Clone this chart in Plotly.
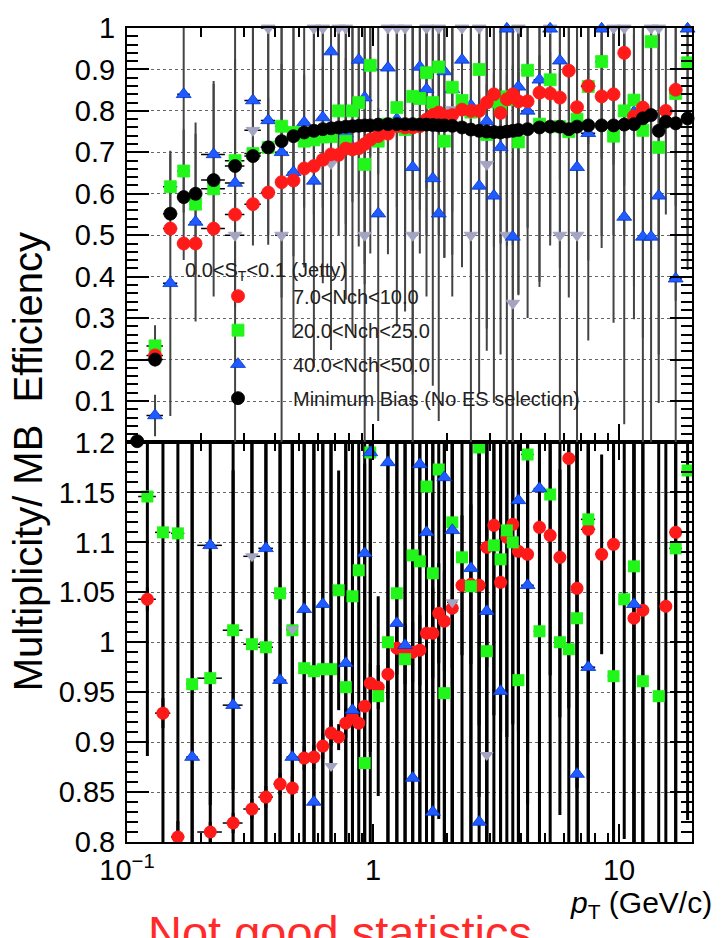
import numpy as np
import plotly.graph_objects as go

# ---------------- data ----------------
PT_EDGES = [0.10, 0.12, 0.14, 0.16, 0.18, 0.20, 0.25, 0.30, 0.35, 0.40, 0.45, 0.50, 0.55, 0.60,
            0.65, 0.70, 0.75, 0.80, 0.85, 0.90, 0.95, 1.0, 1.1, 1.2, 1.3, 1.4, 1.5, 1.6, 1.7, 1.8,
            1.9, 2.0, 2.2, 2.4, 2.6, 2.8, 3.0, 3.2, 3.4, 3.6, 3.8, 4.0, 4.5, 5.0, 5.5, 6.0, 6.5,
            7.0, 8, 9, 10, 11, 12, 13, 14, 15, 16, 18, 20]

# efficiency (top panel), one value per pT bin (58 bins)
MB_EFF = [0.003, 0.20, 0.552, 0.592, 0.600, 0.633, 0.667, 0.691, 0.712, 0.727,
          0.739, 0.748, 0.752, 0.756, 0.758, 0.760, 0.762, 0.763, 0.764, 0.765,
          0.765, 0.767, 0.768, 0.768, 0.768, 0.768, 0.767, 0.767, 0.766, 0.765,
          0.765, 0.764, 0.760, 0.755, 0.752, 0.750, 0.749, 0.748, 0.750, 0.752,
          0.754, 0.756, 0.760, 0.762, 0.762, 0.756, 0.762, 0.765, 0.765, 0.765,
          0.767, 0.768, 0.782, 0.790, 0.752, 0.774, 0.770, 0.782]
MB_ERR = [0.0, 0.004, 0.004, 0.004, 0.003, 0.003, 0.003, 0.003, 0.003, 0.003,
          0.003, 0.003, 0.003, 0.003, 0.003, 0.003, 0.003, 0.003, 0.003, 0.003,
          0.003, 0.003, 0.003, 0.003, 0.003, 0.003, 0.003, 0.003, 0.003, 0.003,
          0.003, 0.003, 0.003, 0.003, 0.003, 0.003, 0.003, 0.003, 0.003, 0.003,
          0.004, 0.004, 0.004, 0.004, 0.004, 0.005, 0.005, 0.005, 0.005, 0.006,
          0.006, 0.007, 0.007, 0.008, 0.008, 0.009, 0.009, 0.010]

NCH7_EFF = [None, 0.21, 0.516, 0.48, 0.48, 0.516, 0.55, 0.575, 0.603, 0.628,
            0.632, 0.661, 0.667, 0.682, 0.695, 0.694, 0.709, 0.707, 0.71, 0.72,
            0.731, 0.739, 0.745, 0.763, 0.76, 0.76, 0.763, 0.779, 0.79, 0.796,
            0.788, 0.79, 0.803, 0.80, 0.80, 0.82, 0.84, 0.795, 0.828, 0.84,
            0.823, 0.823, 0.844, 0.842, 0.832, 0.897, 0.809, 0.86, 0.835, 0.84,
            0.94, 0.787, 0.808, None, None, 0.80, 0.851, None]
NCH7_ERR = [0, 0.012, 0.010, 0.010, 0.010, 0.008, 0.008, 0.007, 0.007, 0.007,
            0.007, 0.007, 0.007, 0.008, 0.008, 0.008, 0.009, 0.009, 0.010, 0.010,
            0.011, 0.012, 0.013, 0.014, 0.015, 0.016, 0.018, 0.020, 0.022, 0.024,
            0.026, 0.028, 0.03, 0.035, 0.04, 0.045, 0.05, 0.06, 0.06, 0.07,
            0.07, 0.08, 0.09, 0.10, 0.10, 0.12, 0.13, 0.14, 0.15, 0.17,
            0.20, 0.20, 0.22, 0, 0, 0.25, 0.28, 0]

NCH20_EFF = [None, 0.233, 0.617, 0.655, 0.575, 0.612, 0.68, 0.697, 0.712, 0.763,
             0.748, 0.727, 0.73, 0.737, 0.738, 0.80, 0.727, 0.80, 0.82, 0.671,
             0.91, 0.727, 0.768, 0.808, 0.755, 0.835, 0.83, 0.892, 0.82, 0.906,
             0.727, 0.857, 0.825, 0.797, 0.90, 0.743, 0.822, 0.81, 0.834, 0.827,
             0.725, 0.898, 0.768, 0.875, 0.762, 0.75, 0.78, 0.859, 0.919, 0.739,
             0.80, 0.826, 0.753, 0.967, 0.712, None, 0.842, 0.916]
NCH20_ERR = [0, 0.05, 0.08, 0.10, 0.17, 0.26, 0.12, 0.14, 0.12, 0.15,
             0.15, 0.16, 0.18, 0.17, 0.18, 0.20, 0.20, 0.22, 0.22, 0.24,
             0.22, 0.08, 0.25, 0.24, 0.26, 0.25, 0.27, 0.28, 0.27, 0.30,
             0.28, 0.30, 0.30, 0.32, 0.30, 0.33, 0.35, 0.33, 0.36, 0.35,
             0.37, 0.38, 0.38, 0.40, 0.13, 0.40, 0.42, 0.42, 0.45, 0.45,
             0.18, 0.45, 0.50, 0.50, 0.50, 0, 0.50, 0.50]

NCH40_EFF = [None, 0.065, 0.384, 0.84, 0.532, 0.695, 0.626, 0.825, 0.777, 0.70,
             0.652, 0.772, 0.631, 0.784, 0.943, None, 0.745, 0.712, 0.923, 0.832,
             0.906, 0.552, 0.904, 0.78, 0.766, 0.664, 0.906, 0.852, 0.637, 0.552,
             0.895, 0.852, 0.923, 0.813, 0.619, 0.775, 0.595, 0.712, 0.998, 0.496,
             0.858, 0.80, 0.875, 0.998, 0.921, None, 0.664, 0.746, 0.998, None,
             0.544, 0.797, 0.496, 0.496, 0.595, None, 0.395, 0.998]
NCH40_ERR = [0, 0.05, 0.32, 0.40, 0.24, 0.17, 0.30, 0.35, 0.30, 0.35,
             0.40, 0.35, 0.45, 0.40, 0.45, 0, 0.40, 0.45, 0.45, 0.45,
             0.45, 0.50, 0.45, 0.50, 0.45, 0.50, 0.45, 0.50, 0.50, 0.50,
             0.45, 0.50, 0.50, 0.50, 0.50, 0.50, 0.50, 0.50, 0.50, 0.50,
             0.50, 0.50, 0.50, 0.50, 0.50, 0, 0.50, 0.50, 0.50, 0,
             0.50, 0.50, 0.50, 0.50, 0.50, 0, 0.40, 0.50]

# extra class drawn with grey down-triangles (not in legend)
GREY_EFF = [None, None, None, None, None, None, 0.5, 0.753, 1.0, 0.5,
            0.749, None, 1.0, 1.0, 0.673, 1.0, 1.0, None, None, 0.5,
            None, None, 1.0, 1.0, 1.0, 0.5, None, 1.0, None, 1.0,
            None, 0.803, 1.0, 0.5, 1.0, 0.671, None, None, 0.5, 0.336,
            1.0, None, None, 1.0, 0.5, None, 0.5, None, None, 1.0,
            1.0, None, None, 1.0, 1.0, None, None, None]
GREY_ERR = [0, 0, 0, 0, 0, 0, 0.5, 0.25, 0.5, 0.5,
            0.30, 0, 0.5, 0.5, 0.45, 0.5, 0.5, 0, 0, 0.5,
            0, 0, 0.5, 0.5, 0.5, 0.5, 0, 0.5, 0, 0.5,
            0, 0.35, 0.5, 0.5, 0.5, 0.45, 0, 0, 0.5, 0.35,
            0.5, 0, 0, 0.5, 0.5, 0, 0.5, 0, 0, 0.5,
            0.5, 0, 0, 0.5, 0.5, 0, 0, 0]

# ratio to MB (bottom panel), bins 2..58
RATIO_PT = [0.121, 0.140, 0.161, 0.184, 0.218, 0.270, 0.322, 0.367, 0.419, 0.470,
            0.525, 0.575, 0.625, 0.675, 0.725, 0.775, 0.825, 0.875, 0.925, 0.975,
            1.05, 1.15, 1.25, 1.35, 1.45, 1.55, 1.65, 1.75, 1.85, 1.95,
            2.1, 2.3, 2.5, 2.7, 2.9, 3.1, 3.3, 3.5, 3.7, 3.9,
            4.25, 4.75, 5.25, 5.75, 6.25, 6.75, 7.5, 8.5, 9.5, 10.5,
            11.5, 12.5, 13.5, 14.5, 15.5, 17.0, 19.0]

NCH7_RATIO = [1.043, 0.929, 0.805, None, 0.81, 0.819, 0.833, 0.845, 0.858, 0.854,
              0.884, 0.885, 0.896, 0.909, 0.905, 0.919, 0.925, 0.919, 0.936, 0.959,
              0.955, 0.968, 0.994, 0.988, 0.990, 0.992, 1.009, 1.009, 1.029, 1.021,
              1.034, 1.057, 1.058, 1.057, 1.095, 1.117, 1.060, 1.105, 1.118, 1.091,
              1.088, 1.115, 1.107, 1.085, 1.184, 1.054, 1.113, 1.088, 1.098, None,
              1.024, 1.032, None, None, 1.036, 1.110, None]
NCH7_RATIO_ERR = [0.012, 0.015, 0.016, 0, 0.010, 0.010, 0.010, 0.011, 0.011, 0.012,
                  0.012, 0.012, 0.013, 0.013, 0.013, 0.015, 0.016, 0.018, 0.018, 0.02,
                  0.022, 0.025, 0.026, 0.03, 0.03, 0.035, 0.04, 0.045, 0.05, 0.05,
                  0.06, 0.07, 0.08, 0.14, 0.12, 0.19, 0.15, 0.20, 0.20, 0.18,
                  0.20, 0.22, 0.14, 0.16, 0.25, 0.20, 0.25, 0.10, 0.30, 0,
                  0.30, 0.30, 0, 0, 0.35, 0.40, 0]

NCH20_RATIO = [1.146, 1.110, 1.109, 0.958, 0.964, 1.012, 0.998, 0.995, 1.049, 1.012,
               0.974, 0.971, 0.973, 0.973, 1.052, 0.955, 1.046, 1.072, 0.879, 1.190,
               0.946, 1.000, 1.049, 0.983, 1.087, 1.081, 1.156, 1.069, 1.173, 0.949,
               1.120, 1.085, 1.056, 1.195, 0.991, 1.097, 1.083, 1.112, 1.100, 0.962,
               1.188, 1.011, 1.148, 1.000, 0.993, 1.024, 1.123, None, 0.966, 1.043,
               1.076, 0.961, None, 0.946, None, 1.094, 1.172]
NCH20_RATIO_ERR = [0.26, 0.35, 0.35, 0.30, 0.127, 0.16, 0.35, 0.30, 0.30, 0.30,
                   0.30, 0.30, 0.30, 0.30, 0.12, 0.30, 0.30, 0.30, 0.30, 0.30,
                   0.10, 0.30, 0.35, 0.35, 0.35, 0.35, 0.35, 0.35, 0.35, 0.35,
                   0.35, 0.35, 0.35, 0.35, 0.35, 0.35, 0.35, 0.35, 0.35, 0.35,
                   0.35, 0.35, 0.35, 0.173, 0.35, 0.35, 0.35, 0, 0.35, 0.24,
                   0.35, 0.35, 0, 0.35, 0, 0.35, 0.35]

NCH40_RATIO = [None, None, None, 0.885, 1.097, 0.937, None, 1.094, 0.962, 0.885,
               1.033, 0.840, 1.038, None, None, 0.979, 0.932, None, 1.089, 1.190,
               None, 1.180, 1.019, 0.997, 0.864, 1.178, 1.110, 0.830, None, 1.165,
               1.112, None, 1.074, 0.820, 1.031, None, 0.951, None, None, 1.142,
               1.057, 1.154, None, None, None, 0.868, 0.975, None, None, None,
               1.038, None, None, None, None, None, None]

GREY_RATIO = [None, None, None, None, None, None, 1.086, None, None, 1.013,
              None, None, None, 0.876, None, None, None, None, None, None,
              None, None, None, None, None, None, None, None, None, None,
              1.040, None, None, None, 0.887, None, None, None, None, None,
              None, None, None, None, None, None, None, None, None, None,
              None, None, None, None, None, None, None]

# ---------------- geometry from the library ----------------
edges = np.array(PT_EDGES)
pt = (edges[1:] + edges[:-1]) / 2
pt_half = (edges[1:] - edges[:-1]) / 2
rpt = np.array(RATIO_PT)
rhalf = pt_half[1:]

RED = "#ff1a1a"
GREEN = "#22f51a"
BLUE = "#1f5bff"
GREY = "#a3a3c2"
BLACK = "#000000"
FONT = "Liberation Sans, Arial, sans-serif"

fig = go.Figure()


def err_trace(x, y, ey, ex, xa, ya, color, thick):
    fig.add_trace(go.Scatter(
        x=x, y=y, mode="markers", xaxis=xa, yaxis=ya, showlegend=False, hoverinfo="skip",
        marker=dict(size=1, color="rgba(0,0,0,0)"),
        error_y=dict(type="data", array=ey, symmetric=True, color=color, thickness=thick, width=0),
        error_x=dict(type="data", array=ex, symmetric=True, color="black", thickness=1.5, width=0),
        cliponaxis=True))


def mk_trace(x, y, xa, ya, color, symbol, size, name=None, rank=None, line=None):
    fig.add_trace(go.Scatter(
        x=x, y=y, mode="markers", xaxis=xa, yaxis=ya, name=name or "grey",
        showlegend=name is not None, legendrank=rank or 1000,
        legendgroup=name or "grey",
        marker=dict(color=color, symbol=symbol, size=size,
                    line=dict(width=0.8, color=line or color)),
        cliponaxis=False))


TOPC = "#444444"
# error bars first (behind all markers)
err_trace(pt, GREY_EFF, GREY_ERR, pt_half, "x2", "y2", TOPC, 2)
err_trace(pt, NCH40_EFF, NCH40_ERR, pt_half, "x2", "y2", TOPC, 2)
err_trace(pt, NCH20_EFF, NCH20_ERR, pt_half, "x2", "y2", TOPC, 2)
err_trace(pt, NCH7_EFF, NCH7_ERR, pt_half, "x2", "y2", TOPC, 2)
err_trace(pt, MB_EFF, MB_ERR, pt_half, "x2", "y2", TOPC, 2)

err_trace(rpt, GREY_RATIO, [0.6] * len(rpt), rhalf, "x", "y", "black", 3)
err_trace(rpt, NCH40_RATIO, [0.5] * len(rpt), rhalf, "x", "y", "black", 3)
err_trace(rpt, NCH20_RATIO, NCH20_RATIO_ERR, rhalf, "x", "y", "black", 3)
err_trace(rpt, NCH7_RATIO, NCH7_RATIO_ERR, rhalf, "x", "y", "black", 3)

# markers: top panel
mk_trace(pt, GREY_EFF, "x2", "y2", GREY, "triangle-down", 12)
mk_trace(pt, NCH40_EFF, "x2", "y2", BLUE, "triangle-up", 13, "40.0&lt;Nch&lt;50.0", 3, "#0033cc")
mk_trace(pt, NCH20_EFF, "x2", "y2", GREEN, "square", 12, "20.0&lt;Nch&lt;25.0", 2)
mk_trace(pt, NCH7_EFF, "x2", "y2", RED, "circle", 13, "7.0&lt;Nch&lt;10.0", 1)
mk_trace(pt, MB_EFF, "x2", "y2", BLACK, "circle", 13, "Minimum Bias (No ES selection)", 4)

# markers: bottom panel
fig.add_trace(go.Scatter(x=rpt, y=NCH7_RATIO, mode="markers", xaxis="x", yaxis="y", showlegend=False,
                         marker=dict(color=RED, symbol="circle", size=13), cliponaxis=True))
fig.add_trace(go.Scatter(x=rpt, y=NCH20_RATIO, mode="markers", xaxis="x", yaxis="y", showlegend=False,
                         marker=dict(color=GREEN, symbol="square", size=12), cliponaxis=True))
fig.add_trace(go.Scatter(x=rpt, y=NCH40_RATIO, mode="markers", xaxis="x", yaxis="y", showlegend=False,
                         marker=dict(color=BLUE, symbol="triangle-up", size=13,
                                     line=dict(width=0.8, color="#0033cc")), cliponaxis=True))
fig.add_trace(go.Scatter(x=rpt, y=GREY_RATIO, mode="markers", xaxis="x", yaxis="y", showlegend=False,
                         marker=dict(color=GREY, symbol="triangle-down", size=12), cliponaxis=True))

W, H = 721, 938
ML, MR, MT, MB = 127, 29, 23, 96
PW = W - ML - MR
ph = H - MT - MB
split = 402 / ph

xr = [-1.0, np.log10(19.8)]
minor_x = [0.2, 0.3, 0.4, 0.5, 0.6, 0.7, 0.8, 0.9, 2, 3, 4, 5, 6, 7, 8, 9, 20]
axis_common = dict(showline=True, linecolor="black", linewidth=2, mirror="ticks",
                   ticks="inside", tickcolor="black", tickwidth=2, zeroline=False)

fig.update_layout(
    width=W, height=H, margin=dict(l=ML, r=MR, t=MT, b=MB),
    paper_bgcolor="white", plot_bgcolor="white",
    font=dict(family=FONT, color="black"),
    xaxis=dict(type="log", range=xr, domain=[0, 1], anchor="y", showgrid=False,
               tickvals=[0.1, 1, 10], ticktext=["10<sup>\u22121</sup>", "1", "10"],
               ticklen=18, tickfont=dict(size=29), ticklabelstandoff=1,
               minor=dict(ticks="inside", ticklen=9, tickvals=minor_x, tickcolor="black",
                          tickwidth=1.5, showgrid=False),
               **axis_common),
    xaxis2=dict(type="log", range=xr, domain=[0, 1], anchor="y2", matches="x", showgrid=False,
                showticklabels=False, tickvals=[0.1, 1, 10], ticklen=18,
                minor=dict(ticks="inside", ticklen=9, tickvals=minor_x, tickcolor="black",
                           tickwidth=1.5, showgrid=False),
                **axis_common),
    yaxis=dict(domain=[0, split], range=[0.8, 1.2], anchor="x",
               tickvals=[0.8, 0.85, 0.9, 0.95, 1.0, 1.05, 1.1, 1.15, 1.2],
               ticktext=["0.8", "0.85", "0.9", "0.95", "1", "1.05", "1.1", "1.15", "1.2"],
               ticklen=22, tickfont=dict(size=29), ticklabelstandoff=4,
               showgrid=True, gridcolor="#666666", griddash="dot", gridwidth=1,
               minor=dict(ticks="inside", ticklen=11, dtick=0.01, tick0=0.8, tickcolor="black",
                          tickwidth=1.5, showgrid=False),
               **axis_common),
    yaxis2=dict(domain=[split, 1], range=[0, 1.0], anchor="x2",
                tickvals=[0.1, 0.2, 0.3, 0.4, 0.5, 0.6, 0.7, 0.8, 0.9, 1.0],
                ticktext=["0.1", "0.2", "0.3", "0.4", "0.5", "0.6", "0.7", "0.8", "0.9", "1"],
                ticklen=22, tickfont=dict(size=29), ticklabelstandoff=4,
                showgrid=True, gridcolor="#666666", griddash="dot", gridwidth=1,
                minor=dict(ticks="inside", ticklen=11, dtick=0.02, tick0=0, tickcolor="black",
                           tickwidth=1.5, showgrid=False),
                **axis_common),
    legend=dict(x=(183 - ML) / PW, y=(H - MB - 247) / ph, xanchor="left", yanchor="top",
                bgcolor="rgba(0,0,0,0)", borderwidth=0,
                font=dict(size=20, color="#222222", family=FONT),
                title=dict(text="0.0&lt;S<sub>T</sub>&lt;0.1 (Jetty)",
                           font=dict(size=20, color="#222222", family=FONT)),
                traceorder="grouped", tracegroupgap=5, itemwidth=100),
    showlegend=True,
)

fig.add_annotation(text="Multiplicity/ MB  Efficiency", textangle=-90, xref="paper", yref="paper",
                   x=(28 - ML) / PW, y=(H - MB - 460) / ph, xanchor="center", yanchor="middle",
                   showarrow=False, font=dict(size=40, family=FONT, color="black"))
fig.add_annotation(text="<i>p</i><sub>T</sub> (GeV/c)", xref="paper", yref="paper",
                   x=(714 - ML) / PW, y=(H - MB - 905) / ph, xanchor="right", yanchor="middle",
                   showarrow=False, font=dict(size=30, family=FONT, color="black"))
fig.add_annotation(text="Not good statistics", xref="paper", yref="paper",
                   x=(340 - ML) / PW, y=(H - MB - 904) / ph, xanchor="center", yanchor="top",
                   showarrow=False, font=dict(size=47, family=FONT, color="#ff2b2b"))

fig.write_html("out.html")
